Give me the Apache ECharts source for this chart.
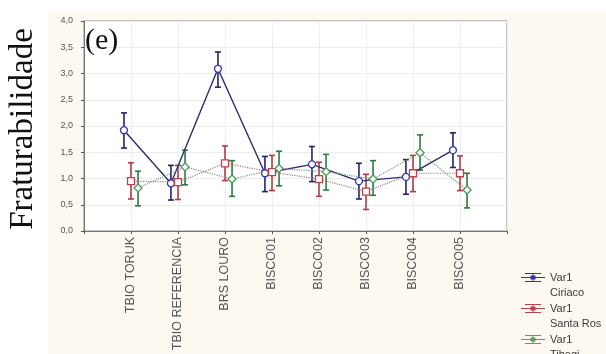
<!DOCTYPE html>
<html><head><meta charset="utf-8">
<script src="https://cdn.jsdelivr.net/npm/echarts@6/dist/echarts.min.js"></script>
<style>html,body{margin:0;padding:0;background:#fff}#c{width:606px;height:354px}</style>
</head><body><div id="c"></div>
<script>
var categories = ['TBIO TORUK','TBIO REFERENCIA','BRS LOURO','BISCO01','BISCO02','BISCO03','BISCO04','BISCO05'];
var yTicks = [0,0.5,1,1.5,2,2.5,3,3.5,4];
var seriesNames = ['Var1\nCiriaco','Var1\nSanta Ros','Var1\nTibagi'];
var ciriacoMean = [1.92,0.91,3.09,1.10,1.27,0.95,1.03,1.54];
var ciriacoLow  = [1.58,0.59,2.74,0.75,0.94,0.61,0.70,1.21];
var ciriacoHigh = [2.25,1.25,3.41,1.42,1.61,1.29,1.36,1.87];
var santaMean = [0.95,0.93,1.29,1.12,0.99,0.75,1.10,1.10];
var santaLow  = [0.61,0.60,0.96,0.77,0.66,0.41,0.75,0.77];
var santaHigh = [1.30,1.25,1.62,1.44,1.31,1.08,1.44,1.43];
var tibagiMean = [0.82,1.22,0.99,1.19,1.13,0.99,1.49,0.78];
var tibagiLow  = [0.48,0.88,0.66,0.86,0.78,0.68,1.16,0.44];
var tibagiHigh = [1.14,1.54,1.34,1.52,1.46,1.34,1.83,1.10];

var chart = echarts.init(document.getElementById('c'));
function pts(mean, off){ return mean.map(function(v,i){ return [i+1+off, v]; }); }
function bars(lo, hi, off){ return lo.map(function(v,i){ return [i+1+off, v, hi[i]]; }); }
function errSeries(name, lo, hi, off, color){
  return {
    type:'custom', name:name, data:bars(lo,hi,off), z:3,
    renderItem:function(params, api){
      var x = api.value(0);
      var p1 = api.coord([x, api.value(1)]);
      var p2 = api.coord([x, api.value(2)]);
      var w = 3;
      var st = {stroke:color, lineWidth:1.6};
      return {type:'group', children:[
        {type:'line', shape:{x1:p1[0],y1:p1[1],x2:p2[0],y2:p2[1]}, style:st},
        {type:'line', shape:{x1:p1[0]-w,y1:p1[1],x2:p1[0]+w,y2:p1[1]}, style:st},
        {type:'line', shape:{x1:p2[0]-w,y1:p2[1],x2:p2[0]+w,y2:p2[1]}, style:st}
      ]};
    }
  };
}
// legend icon: error bar glyph in the upper part of a 24x30 box
var iconPath = 'path://M0 0h0.1v0.1h-0.1zM4 3h16v1h-16zM0 7h24v1h-24zM4 11h16v1h-16zM11.5 3h1v9h-1zM9.5 5.5h5v4h-5zM23.9 29.9h0.1v0.1h-0.1z';
var fmtY = function(v){ return v.toFixed(1).replace('.',','); };
var off = 0.15;
chart.setOption({
  backgroundColor:'#fdf9f0',
  animation:false,
  graphic:[
    {type:'rect', shape:{x:0,y:0,width:48,height:354}, style:{fill:'#ffffff'}, silent:true},
    {type:'rect', shape:{x:0,y:0,width:606,height:11}, style:{fill:'#ffffff'}, silent:true},
    {type:'text', x:23, y:129, rotation:Math.PI/2, z:10,
     style:{text:'Fraturabilidade', fontFamily:'Liberation Serif', fontSize:33, fill:'#111',
            align:'center', verticalAlign:'middle', textAlign:'center', textVerticalAlign:'middle'}},
    {type:'text', x:85, y:41, z:10,
     style:{text:'(e)', fontFamily:'Liberation Serif', fontSize:30, fill:'#111',
            align:'left', verticalAlign:'middle', textAlign:'left', textVerticalAlign:'middle'}}
  ],
  grid:{left:84, right:99, top:21, bottom:123, show:true, backgroundColor:'#ffffff', borderColor:'#888', borderWidth:1},
  xAxis:[{
    type:'value', min:0, max:9, interval:1,
    axisLine:{lineStyle:{color:'#777'}}, axisTick:{show:false},
    splitLine:{show:true, lineStyle:{color:'#eceff4'}},
    axisLabel:{rotate:90, color:'#555', fontSize:12.5, fontFamily:'Liberation Sans', margin:6,
      formatter:function(v){ return categories[v-1] || ''; }}
  },{
    type:'value', min:0, max:9, interval:1, position:'top',
    axisLine:{lineStyle:{color:'#777'}}, axisTick:{show:true, inside:true, length:3, lineStyle:{color:'#555'}},
    axisLabel:{show:false}, splitLine:{show:false}
  }],
  yAxis:[{
    type:'value', min:0, max:4, interval:0.5,
    axisLine:{show:true, lineStyle:{color:'#777'}}, axisTick:{show:true, length:3, lineStyle:{color:'#555'}},
    splitLine:{show:true, lineStyle:{color:'#ececec'}},
    axisLabel:{color:'#555', fontSize:9, fontFamily:'Liberation Sans', margin:11, formatter:fmtY}
  },{
    type:'value', min:0, max:4, interval:0.5, position:'right',
    axisLine:{show:true, lineStyle:{color:'#777'}}, axisTick:{show:true, inside:true, length:3, lineStyle:{color:'#555'}},
    axisLabel:{show:false}, splitLine:{show:false}
  }],
  legend:{
    orient:'vertical', left:521, top:270, height:140, itemGap:1, itemWidth:24, itemHeight:30, padding:0,
    icon:iconPath, itemStyle:{borderWidth:0},
    textStyle:{color:'#3a3a3a', fontSize:11, fontFamily:'Liberation Sans', lineHeight:15},
    data:[
      {name:seriesNames[0], itemStyle:{color:'#3434a8', borderWidth:0}},
      {name:seriesNames[1], itemStyle:{color:'#b84050', borderWidth:0}},
      {name:seriesNames[2], itemStyle:{color:'#58a060', borderWidth:0}}
    ]
  },
  series:[
    errSeries('eb1', ciriacoLow, ciriacoHigh, -off, '#24246e'),
    errSeries('eb2', santaLow, santaHigh, 0, '#b23a48'),
    errSeries('eb3', tibagiLow, tibagiHigh, off, '#2f7a3f'),
    {type:'line', name:seriesNames[0], data:pts(ciriacoMean,-off), z:4,
     lineStyle:{color:'#2c2c70', width:1.4}, symbol:'circle', symbolSize:7,
     itemStyle:{color:'#ffffff', borderColor:'#3a3ab5', borderWidth:1.3}},
    {type:'line', name:seriesNames[1], data:pts(santaMean,0), z:4,
     lineStyle:{color:'#9a7a7a', width:1.2, type:'dotted'}, symbol:'rect', symbolSize:7,
     itemStyle:{color:'#ffffff', borderColor:'#c0404a', borderWidth:1.3}},
    {type:'line', name:seriesNames[2], data:pts(tibagiMean,off), z:4,
     lineStyle:{color:'#7a9a7a', width:1.2, type:'dotted'}, symbol:'diamond', symbolSize:8,
     itemStyle:{color:'#ffffff', borderColor:'#4a9a5a', borderWidth:1.3}}
  ]
});
</script></body></html>
